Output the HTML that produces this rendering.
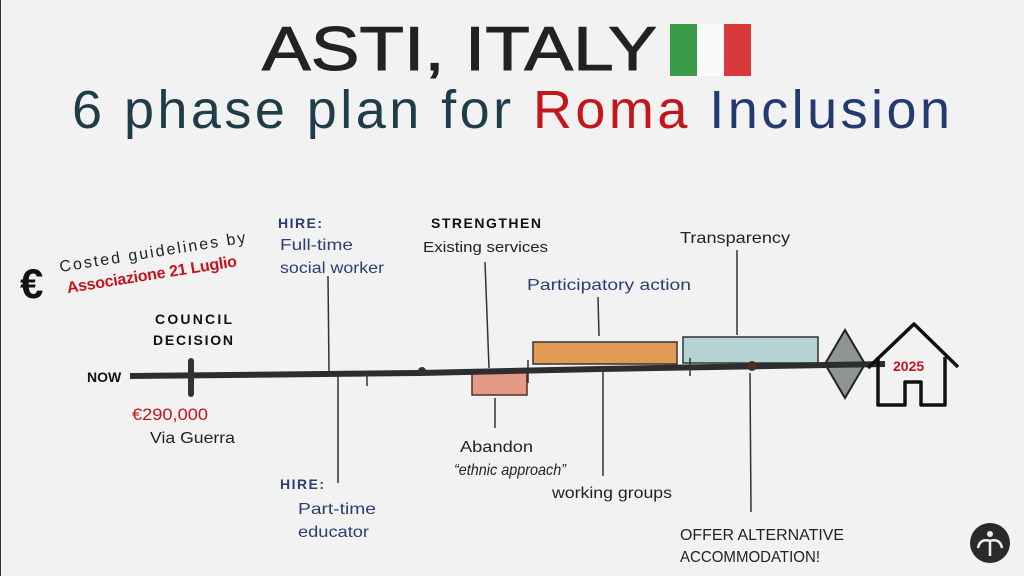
<!DOCTYPE html>
<html><head><meta charset="utf-8"><style>
html,body{margin:0;padding:0;background:#f2f2f2;}
svg{display:block;}
text{font-family:"Liberation Sans",sans-serif;}
</style></head><body>
<svg width="1024" height="576" viewBox="0 0 1024 576">
<rect width="1024" height="576" fill="#f2f2f2"/>
<line x1="0.5" y1="0" x2="0.5" y2="576" stroke="#333" stroke-width="1"/>
<text x="262" y="70" font-size="62" fill="#222" textLength="395" lengthAdjust="spacingAndGlyphs" stroke="#222" stroke-width="1">ASTI, ITALY</text>
<rect x="670" y="24" width="27" height="52" fill="#3a9a4a"/>
<rect x="697" y="24" width="27" height="52" fill="#fafafa"/>
<rect x="724" y="24" width="27" height="52" fill="#d63a3a"/>
<text x="72" y="128" font-size="54" fill="#1f3d48" textLength="878" lengthAdjust="spacing">6 phase plan for <tspan fill="#c4141c">Roma</tspan> <tspan fill="#233a70">Inclusion</tspan></text>

<!-- euro + costed -->
<text x="20" y="298" font-size="42" font-weight="bold" fill="#111">€</text>
<g transform="rotate(-9 60 270)">
<text x="60" y="272" font-size="16" fill="#222" textLength="188" lengthAdjust="spacing">Costed guidelines by</text>
<text x="64" y="294" font-size="16" font-weight="bold" fill="#c4141c" textLength="172" lengthAdjust="spacing">Associazione 21 Luglio</text>
</g>

<!-- boxes -->
<rect x="472" y="370" width="55" height="25" fill="#e59a86" stroke="#5a2a20" stroke-width="1.5"/>
<rect x="533" y="342" width="144" height="22" fill="#e39a55" stroke="#333" stroke-width="1.5"/>
<rect x="683" y="337" width="135" height="26" fill="#b4d3d4" stroke="#333" stroke-width="1.5"/>
<polygon points="845,330 865,364 845,398 825,364" fill="#8f9594" stroke="#222" stroke-width="2"/>

<!-- timeline -->
<polyline points="130,376 420,373 600,369 885,364" fill="none" stroke="#2d2d2d" stroke-width="6"/>
<text x="87" y="382" font-size="14" font-weight="bold" fill="#111">NOW</text>
<line x1="191" y1="361" x2="191" y2="394" stroke="#333" stroke-width="6" stroke-linecap="round"/>
<circle cx="422" cy="371" r="4" fill="#333"/>
<line x1="367" y1="373" x2="367" y2="386" stroke="#333" stroke-width="1.5"/>
<line x1="528" y1="360" x2="528" y2="383" stroke="#333" stroke-width="1.5"/>
<line x1="690" y1="358" x2="690" y2="376" stroke="#333" stroke-width="1.5"/>
<circle cx="752" cy="366" r="5" fill="#4a3020"/>

<!-- house -->
<g fill="none" stroke="#111" stroke-width="3.5" stroke-linejoin="round">
<polyline points="868,368 914,324 958,367"/>
<polyline points="878,357 878,405 905,405 905,382 921,382 921,405 945,405 945,357"/>
</g>
<text x="893" y="371" font-size="14" font-weight="bold" fill="#c4141c">2025</text>

<!-- connectors -->
<g stroke="#333" stroke-width="1.5" fill="none">
<line x1="328" y1="276" x2="329" y2="372"/>
<line x1="338" y1="375" x2="338" y2="483"/>
<line x1="485" y1="262" x2="489" y2="368"/>
<line x1="495" y1="398" x2="495" y2="428"/>
<line x1="598" y1="297" x2="599" y2="336"/>
<line x1="603" y1="368" x2="603" y2="476"/>
<line x1="737" y1="250" x2="737" y2="335"/>
<line x1="750" y1="373" x2="751" y2="512"/>
</g>

<!-- labels -->
<text x="155" y="324" font-size="14" font-weight="bold" fill="#111" textLength="77" lengthAdjust="spacing">COUNCIL</text>
<text x="153" y="345" font-size="14" font-weight="bold" fill="#111" textLength="80" lengthAdjust="spacing">DECISION</text>
<text x="132" y="420" font-size="17" fill="#c4141c" textLength="76" lengthAdjust="spacingAndGlyphs">€290,000</text>
<text x="150" y="443" font-size="16" fill="#222" textLength="85" lengthAdjust="spacingAndGlyphs">Via Guerra</text>

<text x="278" y="228" font-size="14" font-weight="bold" fill="#2c3e70" textLength="44" lengthAdjust="spacing">HIRE:</text>
<text x="280" y="250" font-size="16" fill="#2c3e70" textLength="73" lengthAdjust="spacingAndGlyphs">Full-time</text>
<text x="280" y="273" font-size="16" fill="#2c3e70" textLength="104" lengthAdjust="spacingAndGlyphs">social worker</text>
<text x="280" y="489" font-size="14" font-weight="bold" fill="#2c3e70" textLength="44" lengthAdjust="spacing">HIRE:</text>
<text x="298" y="514" font-size="16" fill="#2c3e70" textLength="78" lengthAdjust="spacingAndGlyphs">Part-time</text>
<text x="298" y="537" font-size="16" fill="#2c3e70" textLength="71" lengthAdjust="spacingAndGlyphs">educator</text>

<text x="431" y="228" font-size="14" font-weight="bold" fill="#111" textLength="110" lengthAdjust="spacing">STRENGTHEN</text>
<text x="423" y="252" font-size="15" fill="#222" textLength="125" lengthAdjust="spacingAndGlyphs">Existing services</text>
<text x="460" y="452" font-size="16" fill="#222" textLength="73" lengthAdjust="spacingAndGlyphs">Abandon</text>
<text x="454" y="475" font-size="16" font-style="italic" fill="#222" textLength="112" lengthAdjust="spacingAndGlyphs">“ethnic approach”</text>

<text x="527" y="290" font-size="16" fill="#2c3e70" textLength="164" lengthAdjust="spacingAndGlyphs">Participatory action</text>
<text x="552" y="498" font-size="16" fill="#222" textLength="120" lengthAdjust="spacingAndGlyphs">working groups</text>
<text x="680" y="243" font-size="16" fill="#222" textLength="110" lengthAdjust="spacingAndGlyphs">Transparency</text>
<text x="680" y="540" font-size="16" fill="#222" textLength="164" lengthAdjust="spacingAndGlyphs">OFFER ALTERNATIVE</text>
<text x="680" y="562" font-size="16" fill="#222" textLength="140" lengthAdjust="spacingAndGlyphs">ACCOMMODATION!</text>

<!-- logo -->
<circle cx="990" cy="543" r="20" fill="#2a2a2a"/>
<circle cx="990" cy="534" r="3" fill="#f2f2f2"/>
<path d="M978 548 Q980 538 990 541 Q1000 538 1002 548" fill="none" stroke="#f2f2f2" stroke-width="2.5"/>
<line x1="990" y1="541" x2="990" y2="556" stroke="#f2f2f2" stroke-width="2.5"/>
</svg>
</body></html>
